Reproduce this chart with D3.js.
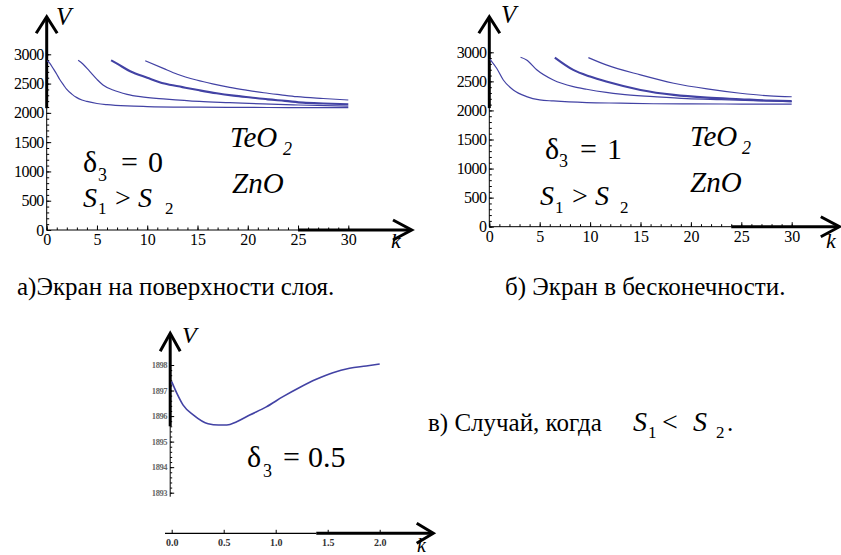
<!DOCTYPE html>
<html>
<head>
<meta charset="utf-8">
<script src="https://cdn.jsdelivr.net/npm/d3@7"></script>
</head>
<body style="margin:0;background:#fff">
<svg id="chart" width="841" height="555"></svg>
<script>
// ---- data ----
// panel a (screen at the layer surface), delta3 = 0
var kA1 = [0.05, 0.3, 0.6, 1, 1.3, 1.7, 2, 2.5, 3, 3.5, 4, 5, 6, 8, 10, 14, 18, 22, 26, 30];
var vA1 = [2890, 2850, 2770, 2660, 2570, 2470, 2400, 2320, 2260, 2220, 2195, 2160, 2140, 2118, 2108, 2098, 2094, 2092, 2090, 2089];
var kA2 = [3.13, 3.6, 4.3, 5, 5.6, 6.6, 8, 9.3, 11.9, 15.2, 18.2, 21.5, 25, 30];
var vA2 = [2897, 2835, 2703, 2572, 2476, 2390, 2317, 2276, 2235, 2195, 2174, 2152, 2134, 2115];
var kA3 = [6.4, 7, 8.3, 10, 11.7, 13.5, 15.2, 16.9, 18.6, 20.3, 22, 23.7, 25.5, 27.5, 30];
var vA3 = [2897, 2840, 2710, 2600, 2500, 2440, 2385, 2335, 2295, 2262, 2230, 2205, 2175, 2160, 2148];
var kA4 = [9.8, 11.6, 13, 14.9, 16.5, 18.2, 20, 21.6, 23.3, 24.9, 27.5, 30];
var vA4 = [2891, 2760, 2660, 2561, 2495, 2436, 2385, 2344, 2308, 2276, 2245, 2220];

// panel b (screen at infinity), delta3 = 1
var kB1 = [0.07, 0.73, 1.39, 2.38, 3.7, 5, 6.35, 9.66, 13, 16.3, 20, 25, 30];
var vB1 = [2880, 2725, 2524, 2352, 2238, 2181, 2163, 2135, 2125, 2115, 2112, 2110, 2108];
var kB2 = [3.1, 3.7, 4.7, 6.35, 8.33, 9.66, 11.6, 13, 16.3, 19.6, 23, 26.2, 30];
var vB2 = [2915, 2869, 2700, 2524, 2410, 2364, 2310, 2280, 2238, 2203, 2185, 2169, 2151];
var kB3 = [6.5, 8.33, 10, 11.6, 15, 18.3, 21.6, 24.9, 27.8, 30];
var vB3 = [2909, 2697, 2582, 2496, 2353, 2267, 2220, 2193, 2170, 2160];
var kB4 = [9.83, 11.6, 15, 18.3, 21.6, 24.9, 27.8, 30];
var vB4 = [2909, 2783, 2611, 2468, 2370, 2296, 2250, 2235];

// panel c (S1 < S2), delta3 = 0.5
var kC = [0, 0.05, 0.11, 0.21, 0.35, 0.45, 0.53, 0.625, 0.75, 0.91, 1.07, 1.23, 1.39, 1.55, 1.71, 1.87, 2.0];
var vC = [1897.35, 1896.89, 1896.43, 1896.04, 1895.70, 1895.65, 1895.65, 1895.78, 1896.04, 1896.36, 1896.76, 1897.12, 1897.44, 1897.70, 1897.87, 1897.96, 1898.04];

// ticks
var yTicksAB = d3.range(0, 3001, 500);
var yMinorAB = d3.range(0, 3001, 100);
var xTicksAB = d3.range(0, 31, 5);
var xMinorAB = d3.range(0, 31, 1);
var yTicksC = [1893, 1894, 1895, 1896, 1897, 1898];
var xTicksC = [0, 0.5, 1, 1.5, 2];
var xLabelsC = ["0.0", "0.5", "1.0", "1.5", "2.0"];

var serif = "'Liberation Serif', monospace";
var lineColor = "#4242a4";

var svg = d3.select("#chart");

function zip(ks, vs) { return ks.map(function(k, i) { return [k, vs[i]]; }); }

function drawCurve(x, y, ks, vs, w) {
  var line = d3.line()
      .x(function(d) { return x(d[0]); })
      .y(function(d) { return y(d[1]); })
      .curve(d3.curveMonotoneX);
  svg.append("path")
     .datum(zip(ks, vs))
     .attr("d", line)
     .attr("fill", "none")
     .attr("stroke", lineColor)
     .attr("stroke-width", w || 1.2);
}

function upArrow(x, tipY, hw, hh) {
  svg.append("path")
     .attr("d", "M" + (x - hw) + "," + (tipY + hh) + "L" + x + "," + tipY + "L" + (x + hw) + "," + (tipY + hh))
     .attr("fill", "none").attr("stroke", "#000").attr("stroke-width", 3);
}
function rightArrow(tipX, y, hl, hw) {
  svg.append("path")
     .attr("d", "M" + (tipX - hl) + "," + (y - hw) + "L" + tipX + "," + y + "L" + (tipX - hl) + "," + (y + hw))
     .attr("fill", "none").attr("stroke", "#000").attr("stroke-width", 3);
}
function seg(x1, y1, x2, y2, w) {
  svg.append("line").attr("x1", x1).attr("y1", y1).attr("x2", x2).attr("y2", y2)
     .attr("stroke", "#000").attr("stroke-width", w);
}
function txt(x, y, s, size, italic) {
  var t = svg.append("text").attr("x", x).attr("y", y)
     .attr("font-size", size)
     .style("font-family", serif)
     .attr("fill", "#000").text(s);
  if (italic) t.style("font-style", "italic");
  return t;
}

function styleAxis(g, size, fill, weight) {
  g.attr("font-family", null).attr("font-size", null);
  g.select(".domain").remove();
  g.selectAll("line").attr("stroke", "#000").attr("stroke-width", 1);
  g.selectAll("text")
   .attr("font-size", size)
   .style("font-family", serif)
   .attr("fill", fill);
  if (weight) g.selectAll("text").style("font-weight", weight);
}

// ---- panels a and b ----
function panelAB(x, y, curves, thickYFrom, yTip, thickXFrom, xTip) {
  var ax0 = x(0), ay0 = y(0);
  // minor ticks
  svg.append("g").attr("transform", "translate(" + ax0 + ",0)")
     .call(d3.axisLeft(y).tickValues(yMinorAB).tickSize(-2.5).tickFormat(""))
     .call(styleAxis, 16, "#000");
  svg.append("g").attr("transform", "translate(0," + ay0 + ")")
     .call(d3.axisBottom(x).tickValues(xMinorAB).tickSize(-2.5).tickFormat(""))
     .call(styleAxis, 16, "#000");
  // major ticks with labels
  svg.append("g").attr("transform", "translate(" + ax0 + ",0)")
     .call(d3.axisLeft(y).tickValues(yTicksAB).tickSize(-4.5).tickPadding(3).tickFormat(d3.format("d")))
     .call(styleAxis, 16, "#000")
     .selectAll("text").attr("letter-spacing", "-0.6");
  svg.append("g").attr("transform", "translate(0," + ay0 + ")")
     .call(d3.axisBottom(x).tickValues(xTicksAB).tickSize(-4.5).tickPadding(4).tickFormat(d3.format("d")))
     .call(styleAxis, 16, "#000");
  // axis lines and arrows
  seg(ax0, ay0, ax0, y(3000), 1);
  seg(ax0, y(thickYFrom), ax0, yTip + 1, 3);
  upArrow(ax0, yTip, 10.5, 16.6);
  seg(ax0, ay0, x(thickXFrom), ay0, 1);
  seg(x(thickXFrom), ay0, xTip - 1, ay0, 3);
  rightArrow(xTip, ay0, 18.7, 10);
  curves.forEach(function(c) { drawCurve(x, y, c[0], c[1], c[2]); });
}

var xA = d3.scaleLinear().domain([0, 30]).range([46.7, 348.3]);
var yA = d3.scaleLinear().domain([0, 3000]).range([230, 54.3]);
panelAB(xA, yA, [[kA1, vA1], [kA2, vA2], [kA3, vA3, 2.1], [kA4, vA4]], 2080, 16.7, 25, 411.7);

var xB = d3.scaleLinear().domain([0, 30]).range([489.3, 791.7]);
var yB = d3.scaleLinear().domain([0, 3000]).range([226.7, 52.3]);
panelAB(xB, yB, [[kB1, vB1], [kB2, vB2], [kB3, vB3, 2.1], [kB4, vB4]], 2040, 16.7, 24, 839.5);

// axis names a, b
txt(56, 25, "V", 25, true);
txt(391, 248, "k", 22, true);
txt(501, 23, "V", 25, true);
txt(826, 248, "k", 22, true);

// annotations a
txt(83, 172, "δ", 30);
txt(98, 181, "3", 18);
txt(121, 172, "=", 30);
txt(148, 172, "0", 30);
txt(83, 207, "S", 28, true);
txt(98, 214, "1", 17);
txt(115, 207, ">", 28);
txt(138, 207, "S", 28, true);
txt(165, 214, "2", 17);
txt(230, 147, "TeO", 29, true);
txt(283, 155, "2", 18, true);
txt(232, 193, "ZnO", 29, true);

// annotations b
txt(545, 159, "δ", 30);
txt(559, 167, "3", 18);
txt(580, 159, "=", 30);
txt(607, 159, "1", 30);
txt(540, 205, "S", 28, true);
txt(555, 213, "1", 17);
txt(572, 205, ">", 28);
txt(595, 205, "S", 28, true);
txt(620, 213, "2", 17);
txt(690, 146, "TeO", 29, true);
txt(742, 154, "2", 18, true);
txt(690, 192, "ZnO", 29, true);

// captions
txt(17, 295, "а)Экран на поверхности слоя.", 25);
txt(505, 295, "б) Экран в бесконечности.", 25);

// ---- panel c ----
var xC = d3.scaleLinear().domain([0, 2]).range([171.7, 379.7]);
var yC = d3.scaleLinear().domain([1893, 1898]).range([492.7, 365]);
var cAxisX = xC(0) - 1.5;
var cAxisY = yC(1893) + 40.6;

svg.append("g").attr("transform", "translate(" + cAxisX + ",0)")
   .call(d3.axisLeft(yC).tickValues(d3.range(1893, 1898.01, 0.2)).tickSize(-2).tickFormat(""))
   .call(styleAxis, 8, "#555");
svg.append("g").attr("transform", "translate(" + cAxisX + ",0)")
   .call(d3.axisLeft(yC).tickValues(yTicksC).tickSize(-4).tickPadding(3).tickFormat(d3.format("d")))
   .call(styleAxis, 8.5, "#666", "bold")
   .selectAll("text").attr("letter-spacing", "-0.4");
svg.append("g").attr("transform", "translate(0," + cAxisY + ")")
   .call(d3.axisBottom(xC).tickValues(xTicksC).tickSize(-3.5).tickPadding(6)
         .tickFormat(function(d, i) { return xLabelsC[i]; }))
   .call(styleAxis, 10, "#333", "bold");

seg(cAxisX, yC(1893) + 4, cAxisX, yC(1898), 1);
seg(cAxisX, yC(1895.6), cAxisX, yC(1898) - 30.7, 3);
upArrow(cAxisX, yC(1898) - 31.7, 10, 18);
seg(xC(0) - 6.7, cAxisY, xC(1.39), cAxisY, 1.2);
seg(xC(1.39), cAxisY, xC(2) + 52.6, cAxisY, 3);
rightArrow(xC(2) + 53.6, cAxisY, 16.6, 10);
drawCurve(xC, yC, kC, vC, 1.6);

txt(182, 343, "V", 24, true);
txt(417, 552, "k", 20, true);

txt(247, 467, "δ", 30);
txt(263, 477, "3", 18);
txt(283, 467, "=", 30);
txt(308, 467, "0.5", 30);

// caption c
txt(428, 431, "в) Случай, когда", 25);
txt(633, 431, "S", 28, true);
txt(648, 438, "1", 17);
txt(662, 431, "<", 28);
txt(693, 431, "S", 28, true);
txt(716, 438, "2", 17);
txt(727, 431, ".", 25);
</script>
</body>
</html>
